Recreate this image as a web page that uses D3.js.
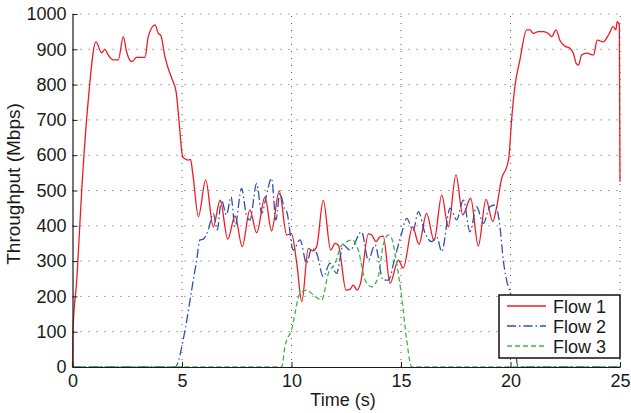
<!DOCTYPE html>
<html><head><meta charset="utf-8">
<script src="https://cdn.jsdelivr.net/npm/d3@7"></script>
<style>
body{margin:0;background:#fff;}
text{font-family:"Liberation Sans",Arial,Helvetica,sans-serif;fill:#1a1a1a;}
</style></head>
<body><svg id="c" width="631" height="413"></svg>
<script>
const xTicks = [0,5,10,15,20,25];
const yTicks = [0,100,200,300,400,500,600,700,800,900,1000];
const seriesNames = ["Flow 1","Flow 2","Flow 3"];

const flow1 = [[0,0],[0.02,100],[0.2,250],[0.42,500],[0.72,756],[1.07,921],[1.33,890],[1.48,900],[1.63,884],[1.86,870],[2.09,870],[2.32,936],[2.47,893],[2.70,865],[2.93,877],[3.31,877],[3.46,936],[3.77,969],[3.92,945],[4.03,940],[4.22,879],[4.37,846],[4.53,818],[4.73,780],[4.86,700],[5.03,596],[5.18,588],[5.29,586],[5.39,588],[5.49,549],[5.75,426],[6.08,530],[6.43,397],[6.74,473],[7.09,362],[7.42,428],[7.75,341],[8.1,445],[8.41,380],[8.79,482],[9.09,386],[9.44,499],[9.78,374],[10.0,378],[10.24,294],[10.47,185],[10.77,336],[10.97,329],[11.15,341],[11.45,473],[11.79,331],[11.99,350],[12.14,345],[12.49,218],[12.67,220],[12.82,232],[13.0,218],[13.15,237],[13.51,377],[13.66,374],[13.86,355],[14.04,369],[14.19,371],[14.5,237],[14.88,303],[15.1,280],[15.53,397],[15.82,348],[16.17,435],[16.51,358],[16.86,487],[17.16,397],[17.51,544],[17.82,431],[18.18,478],[18.53,343],[18.88,475],[19.19,412],[19.37,454],[19.6,535],[19.83,567],[19.93,596],[20.05,700],[20.2,794],[20.43,870],[20.74,955],[20.89,955],[21.04,945],[21.27,950],[21.5,950],[21.73,945],[21.88,936],[22.08,955],[22.26,925],[22.49,909],[22.72,903],[22.87,889],[23.0,860],[23.1,855],[23.25,884],[23.48,889],[23.79,884],[23.96,926],[24.23,921],[24.47,940],[24.69,964],[24.81,955],[24.87,978],[24.97,969],[25,525]];

const flow2 = [[0,0],[4.68,0],[5.14,105],[5.44,218],[5.67,303],[5.82,360],[5.97,362],[6.2,388],[6.43,435],[6.61,388],[6.8,473],[7.03,431],[7.24,482],[7.42,397],[7.72,506],[7.94,431],[8.1,416],[8.41,520],[8.64,435],[8.84,482],[9.09,535],[9.29,416],[9.47,492],[9.7,445],[9.78,440],[10.08,331],[10.39,360],[10.69,294],[10.92,336],[11.15,322],[11.45,256],[11.76,294],[12.06,265],[12.36,346],[12.67,331],[13.2,383],[13.51,303],[13.81,346],[14.19,246],[14.42,246],[14.73,312],[15.03,379],[15.26,421],[15.56,387],[15.79,440],[16.1,379],[16.4,355],[16.63,369],[16.86,327],[17.24,450],[17.54,417],[17.85,473],[18.15,383],[18.45,454],[18.76,407],[19.06,454],[19.29,459],[19.52,397],[19.67,303],[19.9,227],[20.0,209],[20.35,0],[25,0]];

const flow3 = [[0,0],[9.55,0],[9.7,58],[10.0,105],[10.39,209],[10.69,218],[11.0,204],[11.38,190],[11.68,265],[11.99,294],[12.25,341],[12.52,355],[12.79,360],[13.05,331],[13.36,246],[13.66,227],[13.96,256],[14.19,346],[14.42,374],[14.57,365],[14.8,294],[15.03,199],[15.26,76],[15.49,0],[25,0]];

const colors = ["#ec1c24","#2f52a8","#3cb54a"];
const dashes = [null,"9,3,1.5,3","5,3"];

const svg = d3.select("#c");
const x = d3.scaleLinear().domain([0,25]).range([72.5,620]);
const y = d3.scaleLinear().domain([0,1000]).range([367,14]);

// grid
const g = svg.append("g");
g.selectAll(".gx").data(xTicks.slice(1)).enter().append("line")
  .attr("x1",d=>x(d)).attr("x2",d=>x(d)).attr("y1",y(0)).attr("y2",y(1000))
  .attr("stroke","#444").attr("stroke-width",0.9).attr("stroke-dasharray","1,6");
g.selectAll(".gy").data(yTicks.slice(1)).enter().append("line")
  .attr("x1",x(0)).attr("x2",x(25)).attr("y1",d=>y(d)).attr("y2",d=>y(d))
  .attr("stroke","#444").attr("stroke-width",0.9).attr("stroke-dasharray","1,7");

// lines
const line = d3.line().x(d=>x(d[0])).y(d=>y(d[1])).curve(d3.curveMonotoneX);
[flow1,flow2,flow3].forEach((s,i)=>{
  svg.append("path").datum(s).attr("d",line).attr("fill","none")
    .attr("stroke",colors[i]).attr("stroke-width",1.3)
    .attr("stroke-dasharray",dashes[i]);
});

// axes
const ax = svg.append("g").attr("transform",`translate(0,${y(0)})`)
  .call(d3.axisBottom(x).tickValues(xTicks).tickFormat(d3.format("d")).tickSizeInner(-5).tickSizeOuter(0).tickPadding(7));
const ay = svg.append("g").attr("transform",`translate(${x(0)},0)`)
  .call(d3.axisLeft(y).tickValues(yTicks).tickFormat(d3.format("d")).tickSizeInner(-5).tickSizeOuter(0).tickPadding(6));
[ax,ay].forEach(a=>{
  a.selectAll("text").style("font-size","18px").attr("fill","#1a1a1a")
    .style("font-family","'Liberation Sans',Arial,sans-serif");
  a.select(".domain").attr("stroke","#1a1a1a").attr("stroke-width",1.2);
  a.selectAll(".tick line").attr("stroke","#1a1a1a");
});

svg.append("text").attr("x",343).attr("y",406).attr("text-anchor","middle")
  .style("font-size","18px").text("Time (s)");
svg.append("text").attr("transform","translate(20,184) rotate(-90)").attr("text-anchor","middle")
  .style("font-size","19px").text("Throughput (Mbps)");

// legend
const lg = svg.append("g");
lg.append("rect").attr("x",499).attr("y",295).attr("width",121).attr("height",63)
  .attr("fill","#fff").attr("stroke","#111").attr("stroke-width",1.5);
seriesNames.forEach((n,i)=>{
  const yy = 306 + i*20;
  lg.append("line").attr("x1",507).attr("x2",546).attr("y1",yy).attr("y2",yy)
    .attr("stroke",colors[i]).attr("stroke-width",1.3).attr("stroke-dasharray",dashes[i]);
  lg.append("text").attr("x",553).attr("y",yy+6.5).style("font-size","18px").text(n);
});
</script></body></html>
